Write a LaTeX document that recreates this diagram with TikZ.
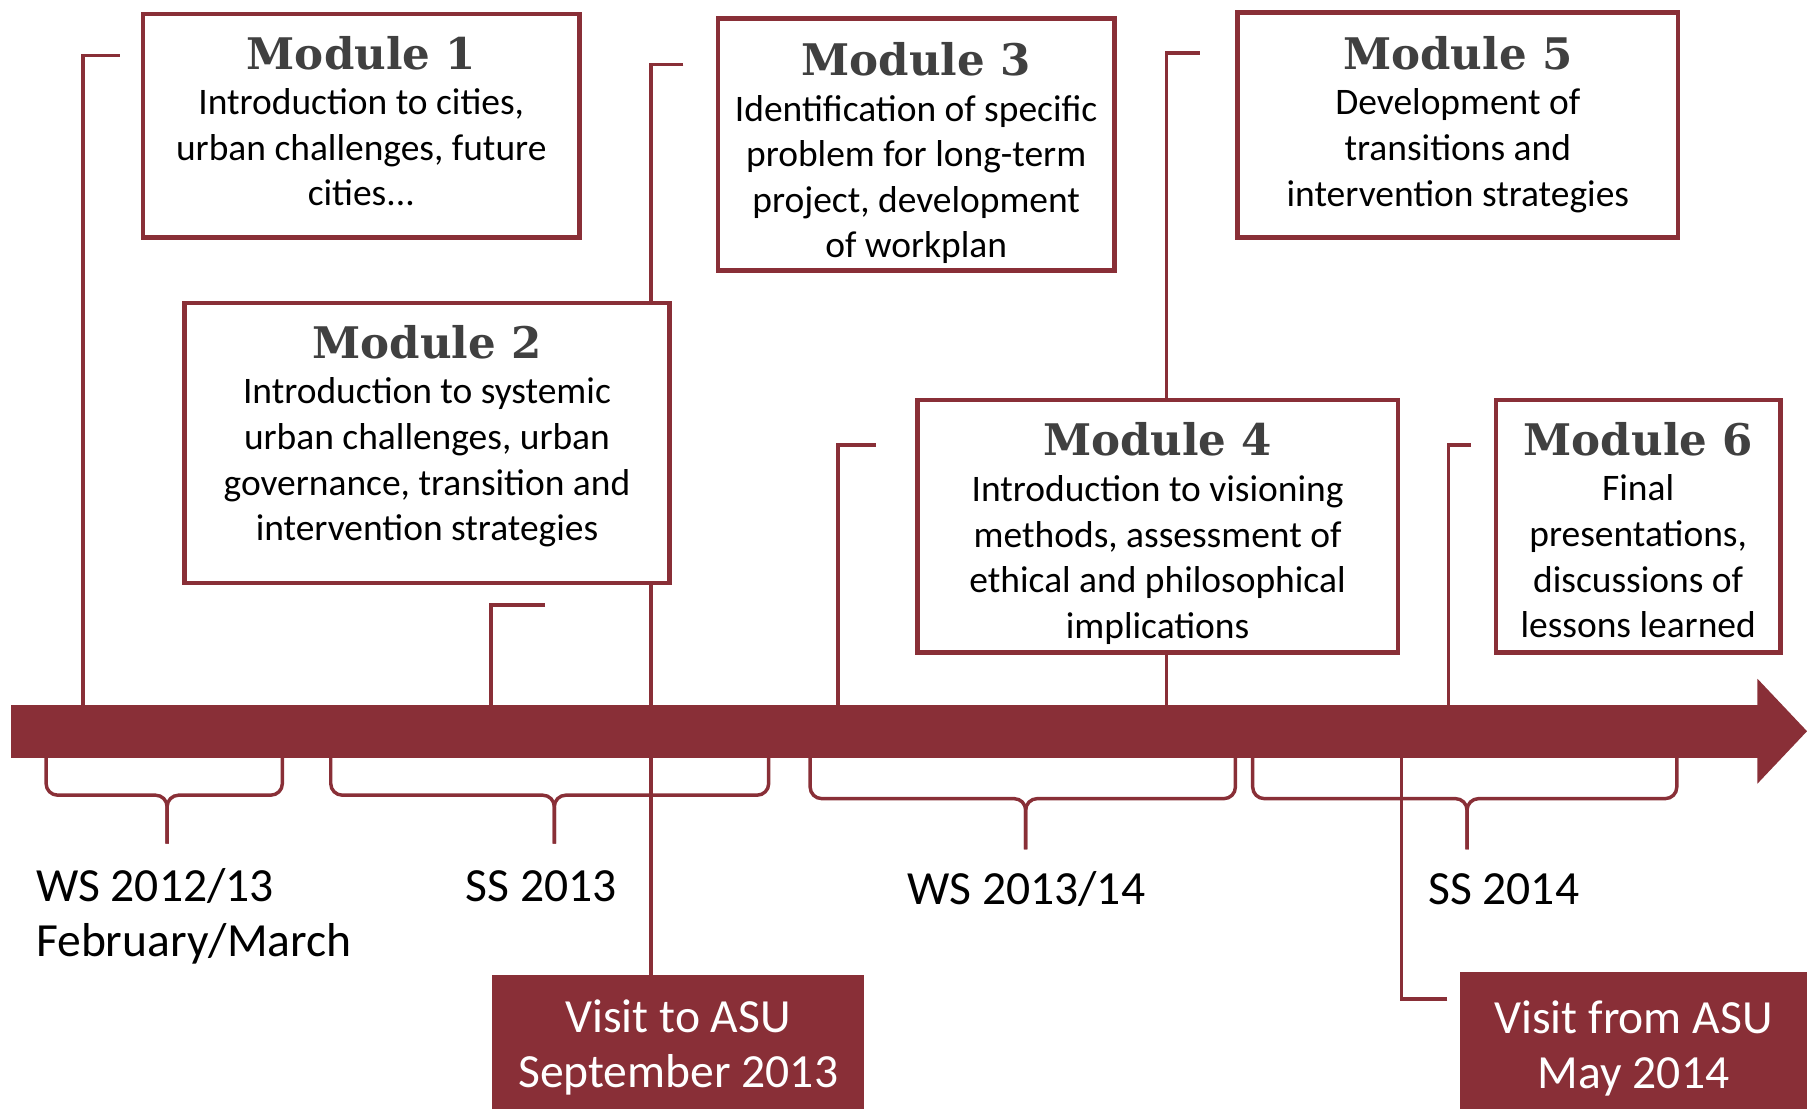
\documentclass[tikz,border=0pt]{standalone}
\usepackage{fontspec}
\setmainfont{Carlito}
\newfontfamily\headfont{DejaVu Serif}
\usepackage{tikz}

\definecolor{asured}{RGB}{137,47,55}
\definecolor{headgray}{RGB}{64,64,64}
\newcommand{\modtitle}[1]{{\headfont\bfseries\fontsize{21.5}{24}\selectfont\color{headgray}#1}\\}

\tikzset{
  modbox/.style={draw=asured, line width=2.3pt, fill=white, inner sep=0pt},
  modtext/.style={align=center, inner sep=0pt, font=\fontsize{18.5}{22.5}\selectfont},
  visit/.style={fill=asured, text=white, align=center, inner sep=0pt,
    font=\fontsize{23.5}{27.3}\selectfont},
  term/.style={anchor=base west, align=left, inner sep=0pt,
    font=\fontsize{23.5}{27.3}\selectfont},
  link/.style={draw=asured, line width=1.7pt},
  bracket/.style={draw=asured, line width=1.7pt, rounded corners=0.2cm},
}

\begin{document}
\begin{tikzpicture}[x=0.02cm, y=-0.02cm]
\useasboundingbox (0,0) rectangle (1568,962);

% free ends of the hooks
\coordinate (m1tick) at (104,48);
\coordinate (m2tick) at (473,525);
\coordinate (m3tick) at (593,56);
\coordinate (m4tick) at (760,386);
\coordinate (m5tick) at (1041,46);
\coordinate (m6tick) at (1276,386);
\coordinate (visit2tick) at (1256,867);

\node [inner sep=0pt, minimum width=30.34cm, minimum height=0.9cm] (axis) at (768,634.5) {};
\node [visit, minimum width=6.46cm, minimum height=2.52cm] (visit1) at (588.5,909) {Visit to ASU\\September 2013};
\node [visit, minimum width=6.02cm, minimum height=2.66cm] (visit2) at (1417.5,909.5) {Visit from ASU\\May 2014};

\draw [link] (m1tick) -| (72,0 |- axis.north);
\draw [link] (m2tick) -| (426,0 |- axis.north);
\draw [link] (m3tick) -| (565,0 |- visit1.north);
\draw [link] (m4tick) -| (727,0 |- axis.north);
\draw [link] (m5tick) -| (1012,0 |- axis.north);
\draw [link] (m6tick) -| (1257,0 |- axis.north);
\draw [link] (visit2tick) -| (1216,0 |- axis.south);

% semester braces
\foreach \xa/\xb/\xm/\yh/\yt in {40/245/145/690/732, 287/667/481/690/732, 703/1072/890/693/737, 1087/1455/1273/693/737} {
  \draw [bracket] (\xa,650) -- (\xa,\yh) -- (\xm,\yh) -- (\xm,\yt);
  \draw [bracket] (\xb,650) -- (\xb,\yh) -- (\xm,\yh) -- (\xm,\yt);
}

% module boxes
\node [modbox, minimum width=7.58cm, minimum height=3.88cm] (mod1) at (313.5,109) {};
\node [modbox, minimum width=8.42cm, minimum height=4.86cm] (mod2) at (370.5,384.5) {};
\node [modbox, minimum width=6.88cm, minimum height=4.38cm] (mod3) at (795,125.5) {};
\node [modbox, minimum width=8.34cm, minimum height=4.38cm] (mod4) at (1004.5,456.5) {};
\node [modbox, minimum width=7.64cm, minimum height=3.9cm] (mod5) at (1265,108.5) {};
\node [modbox, minimum width=4.94cm, minimum height=4.38cm] (mod6) at (1421.5,456.5) {};

\node [modtext] (mod1text) at (313.5,105)
  {\modtitle{Module 1}Introduction to cities,\\urban challenges, future\\cities...};
\node [modtext] (mod2text) at (370.5,378.5)
  {\modtitle{Module 2}Introduction to systemic\\urban challenges, urban\\governance, transition and\\intervention strategies};
\node [modtext] (mod3text) at (795,133)
  {\modtitle{Module 3}Identification of specific\\problem for long-term\\project, development\\of workplan};
\node [modtext] (mod4text) at (1004.5,463)
  {\modtitle{Module 4}Introduction to visioning\\methods, assessment of\\ethical and philosophical\\implications};
\node [modtext] (mod5text) at (1265,108)
  {\modtitle{Module 5}Development of\\transitions and\\intervention strategies};
\node [modtext] (mod6text) at (1421.5,460)
  {\modtitle{Module 6}Final\\presentations,\\discussions of\\lessons learned};

% the time line
\fill [asured] (axis.north west) rectangle (axis.south east);
\fill [asured] (1525,589) -- (1568,634.5) -- (1525,680) -- cycle;

\node [term] (ws12) at (31,830) {WS 2012/13\\February/March};
\node [term] (ss13) at (404,782.5) {SS 2013};
\node [term] (ws13) at (787,785) {WS 2013/14};
\node [term] (ss14) at (1239,785) {SS 2014};
\end{tikzpicture}
\end{document}
